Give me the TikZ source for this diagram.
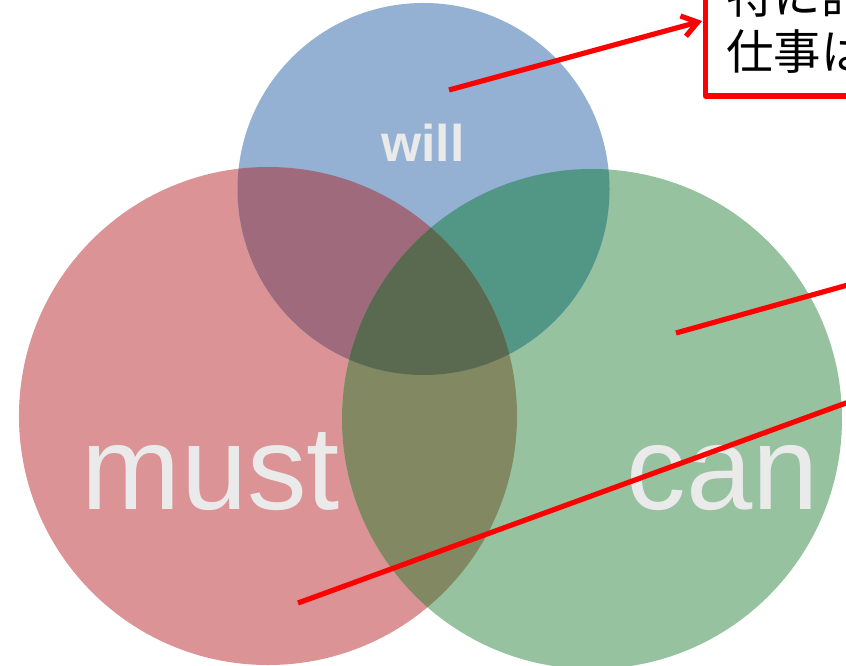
\documentclass[tikz,border=0pt]{standalone}
\usepackage{fontspec}
\setmainfont{Liberation Sans}
\newfontfamily\jpfont{Noto Sans CJK JP}
\usetikzlibrary{arrows.meta}
\definecolor{willblue}{RGB}{148,176,210}
\definecolor{mustred}{RGB}{219,147,149}
\definecolor{cangreen}{RGB}{150,194,160}
\definecolor{wmmix}{RGB}{158,106,124}
\definecolor{wcmix}{RGB}{82,150,134}
\definecolor{mcmix}{RGB}{130,136,98}
\definecolor{allmix}{RGB}{90,106,80}
\definecolor{wordgray}{RGB}{234,234,234}

\begin{document}
\begin{tikzpicture}[redline/.style={red,line width=4.9pt},
    word/.style={text=wordgray,inner sep=0pt,anchor=base},
    memotext/.style={font=\jpfont\fontsize{45}{54}\selectfont,inner sep=0pt,anchor=base west}]
  \useasboundingbox (0,0) rectangle (28.2,22.2);
  \clip (0,0) rectangle (28.2,22.2);
  \fill[white] (0,0) rectangle (28.2,22.2);
  % Circle centres
  \coordinate (mustc) at (8.933,8.333);
  \coordinate (canc)  at (19.733,8.233);
  \coordinate (willc) at (14.117,15.9);
  % Circles
  \fill[mustred]  (mustc) circle (8.3);
  \fill[cangreen] (canc) circle (8.333);
  \fill[willblue] (willc) circle (6.2);
  % Overlaps
  \begin{scope}
    \clip (willc) circle (6.2);
    \fill[wmmix] (mustc) circle (8.3);
    \fill[wcmix] (canc) circle (8.333);
  \end{scope}
  \begin{scope}
    \clip (mustc) circle (8.3);
    \fill[mcmix] (canc) circle (8.333);
    \clip (canc) circle (8.333);
    \fill[allmix] (willc) circle (6.2);
  \end{scope}
  % Words
  \node[word,font=\bfseries\fontsize{49}{49}\selectfont] (will) at (14.1,16.8) {will};
  \node[word,font=\fontsize{113}{113}\selectfont] (must) at (7.033,5.2) {must};
  \node[word,font=\fontsize{113}{113}\selectfont] (can) at (24.1,5.2) {can};
  % Memo box
  \draw[redline,line join=round] (23.517,19.0) rectangle (30,23.5);
  \node[memotext] (memotop) at (24.2,21.75) {特に計};
  \node[memotext] (memobot) at (24.2,19.867) {仕事は};
  % Pointer lines
  \coordinate (willpt)   at (14.967,19.2);
  \coordinate (arrowtip) at (23.4,21.5);
  \coordinate (canpt)    at (22.533,11.1);
  \coordinate (canout)   at (29.333,13.0);
  \coordinate (bothpt)   at (9.933,2.1);
  \coordinate (bothout)  at (29.333,9.18);
  \draw[redline,-{Straight Barb[length=5mm,width=7mm]}] (willpt) -- (arrowtip);
  \draw[redline] (canpt) -- (canout);
  \draw[redline] (bothpt) -- (bothout);
\end{tikzpicture}
\end{document}
